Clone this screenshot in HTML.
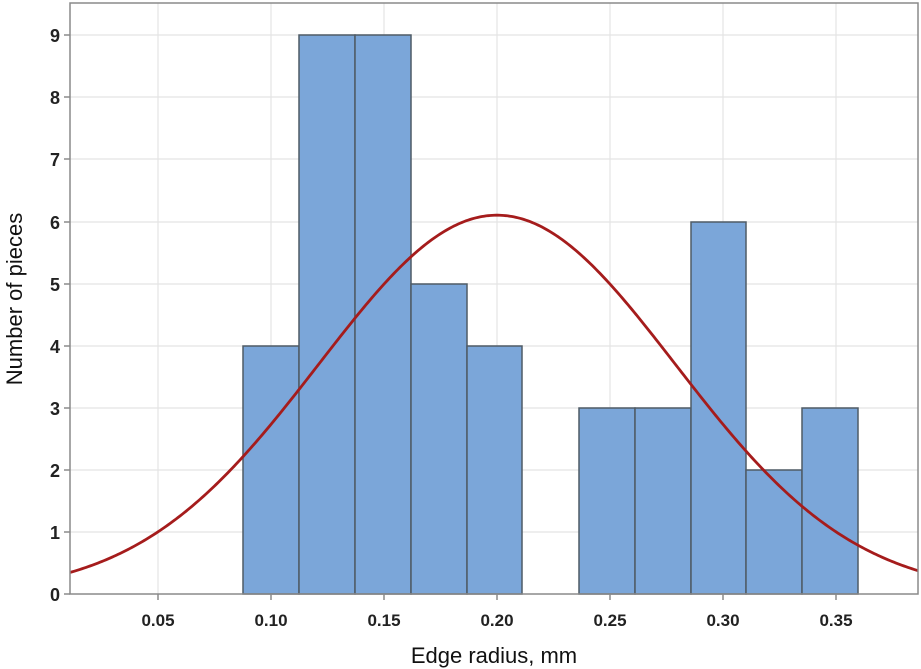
<!DOCTYPE html>
<html><head><meta charset="utf-8"><style>
html,body{margin:0;padding:0;background:#fff;}
svg{display:block;font-family:"Liberation Sans",sans-serif;}
</style></head><body>
<svg id="s" width="921" height="669" viewBox="0 0 921 669" xmlns="http://www.w3.org/2000/svg">
<g stroke="#e4e4e4" stroke-width="1.2">
<line x1="158" y1="3" x2="158" y2="594"/><line x1="271" y1="3" x2="271" y2="594"/>
<line x1="384" y1="3" x2="384" y2="594"/><line x1="497" y1="3" x2="497" y2="594"/>
<line x1="610" y1="3" x2="610" y2="594"/><line x1="723" y1="3" x2="723" y2="594"/>
<line x1="836" y1="3" x2="836" y2="594"/>
<line x1="70" y1="532" x2="918" y2="532"/><line x1="70" y1="470" x2="918" y2="470"/>
<line x1="70" y1="408" x2="918" y2="408"/><line x1="70" y1="346" x2="918" y2="346"/>
<line x1="70" y1="284" x2="918" y2="284"/><line x1="70" y1="222" x2="918" y2="222"/>
<line x1="70" y1="159" x2="918" y2="159"/><line x1="70" y1="97" x2="918" y2="97"/>
<line x1="70" y1="35" x2="918" y2="35"/>
</g>
<g fill="#7ba6d9" stroke="#4f5b66" stroke-width="1.5">
<rect x="243" y="346" width="56" height="248"/>
<rect x="299" y="35" width="56" height="559"/>
<rect x="355" y="35" width="56" height="559"/>
<rect x="411" y="284" width="56" height="310"/>
<rect x="467" y="346" width="55" height="248"/>
<rect x="579" y="408" width="56" height="186"/>
<rect x="635" y="408" width="56" height="186"/>
<rect x="691" y="222" width="55" height="372"/>
<rect x="746" y="470" width="56" height="124"/>
<rect x="802" y="408" width="56" height="186"/>
</g>
<path id="c" fill="none" stroke="#a51c1c" stroke-width="2.8"/>
<rect x="70" y="3" width="848" height="591" fill="none" stroke="#8a8a8a" stroke-width="1.5"/>
<g stroke="#8a8a8a" stroke-width="1.5">
<line x1="64" y1="594" x2="70" y2="594"/><line x1="64" y1="532" x2="70" y2="532"/>
<line x1="64" y1="470" x2="70" y2="470"/><line x1="64" y1="408" x2="70" y2="408"/>
<line x1="64" y1="346" x2="70" y2="346"/><line x1="64" y1="284" x2="70" y2="284"/>
<line x1="64" y1="222" x2="70" y2="222"/><line x1="64" y1="159" x2="70" y2="159"/>
<line x1="64" y1="97" x2="70" y2="97"/><line x1="64" y1="35" x2="70" y2="35"/>
<line x1="158" y1="594" x2="158" y2="600"/><line x1="271" y1="594" x2="271" y2="600"/>
<line x1="384" y1="594" x2="384" y2="600"/><line x1="497" y1="594" x2="497" y2="600"/>
<line x1="610" y1="594" x2="610" y2="600"/><line x1="723" y1="594" x2="723" y2="600"/>
<line x1="836" y1="594" x2="836" y2="600"/>
</g>
<g font-size="18" fill="#222" text-anchor="end" font-weight="bold">
<text x="60" y="601">0</text><text x="60" y="539">1</text><text x="60" y="477">2</text>
<text x="60" y="415">3</text><text x="60" y="353">4</text><text x="60" y="291">5</text>
<text x="60" y="229">6</text><text x="60" y="166">7</text><text x="60" y="104">8</text>
<text x="60" y="42">9</text>
</g>
<g font-size="17" fill="#222" text-anchor="middle" font-weight="bold">
<text x="158" y="626">0.05</text><text x="271" y="626">0.10</text><text x="384" y="626">0.15</text>
<text x="497" y="626">0.20</text><text x="610" y="626">0.25</text><text x="723" y="626">0.30</text>
<text x="836" y="626">0.35</text>
</g>
<text x="494" y="663" font-size="22" fill="#111" text-anchor="middle">Edge radius, mm</text>
<text transform="translate(22,299) rotate(-90)" font-size="22" fill="#111" text-anchor="middle">Number of pieces</text>
</svg>
<script>
var d="";for(var px=70;px<=918;px+=2){var x=(px-45)/2260;var y=6.1*Math.exp(-Math.pow(x-0.2,2)/(2*0.0789*0.0789));var py=594-y*62.1;d+=(d?"L":"M")+px+","+py.toFixed(2);}
document.getElementById("c").setAttribute("d",d);
</script>
</body></html>
